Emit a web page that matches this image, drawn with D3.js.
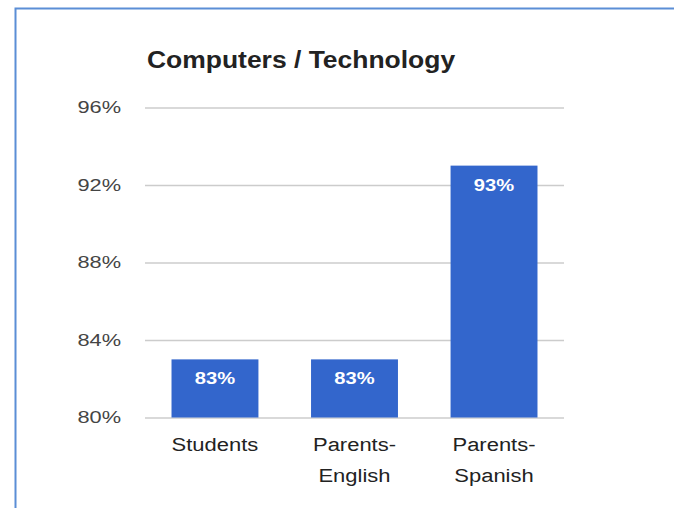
<!DOCTYPE html>
<html>
<head>
<meta charset="utf-8">
<script src="https://cdn.jsdelivr.net/npm/d3@7"></script>
<style>
  html, body { margin: 0; padding: 0; background: #fff; }
  svg { display: block; font-family: "Liberation Sans", Arial, sans-serif; }
</style>
</head>
<body>
<svg id="chart" width="674" height="508"></svg>
<script>
// Survey share answering "Computers / Technology", by respondent group
const categories = [["Students"], ["Parents-", "English"], ["Parents-", "Spanish"]];
const values = [83, 83, 93];
const valueLabels = ["83%", "83%", "93%"];
const yTicks = [80, 84, 88, 92, 96];
const title = "Computers / Technology";

const svg = d3.select("#chart");

// widen glyphs horizontally, keeping each text's anchor point fixed
function widen(sel, factor) {
  sel.each(function () {
    const len = this.getComputedTextLength();
    d3.select(this)
      .attr("textLength", len * factor)
      .attr("lengthAdjust", "spacingAndGlyphs");
  });
}

// frame around the chart area
svg.append("rect")
  .attr("x", 15.5).attr("y", 8.5)
  .attr("width", 700).attr("height", 600)
  .attr("fill", "#fff")
  .attr("stroke", "#5b8ed6").attr("stroke-width", 2);

const plot = { left: 145, right: 564, top: 107.5, bottom: 417.5 };

const x = d3.scaleBand()
  .domain(d3.range(values.length))
  .range([plot.left, plot.right])
  .paddingInner(0.377)
  .paddingOuter(0.19);

const y = d3.scaleLinear()
  .domain([80, 96])
  .range([plot.bottom, plot.top]);

// title
svg.append("text")
  .attr("x", 147).attr("y", 68)
  .attr("font-size", 23).attr("font-weight", "bold")
  .attr("fill", "#222")
  .text(title)
  .call(widen, 1.15);

// gridlines and tick labels
const yAxis = d3.axisLeft(y)
  .tickValues(yTicks)
  .tickSize(-(plot.right - plot.left))
  .tickPadding(24)
  .tickFormat(d => d + "%");

const gAxis = svg.append("g")
  .attr("transform", `translate(${plot.left},0)`)
  .call(yAxis);
gAxis.select(".domain").remove();
gAxis.selectAll(".tick line").attr("stroke", "#ccc").attr("stroke-width", 1.5);
gAxis.selectAll(".tick text")
  .attr("fill", "#444")
  .attr("font-size", 16.5)
  .attr("font-family", "Liberation Sans, Arial, sans-serif")
  .call(widen, 1.32);

// bars
svg.append("g").selectAll("rect")
  .data(values)
  .join("rect")
  .attr("x", (d, i) => x(i))
  .attr("width", x.bandwidth())
  .attr("y", d => y(d))
  .attr("height", d => y(80) - y(d))
  .attr("fill", "#3366cc");

// value labels inside the bar tops
svg.append("g").selectAll("text")
  .data(values)
  .join("text")
  .attr("x", (d, i) => x(i) + x.bandwidth() / 2)
  .attr("y", d => y(d) + 25)
  .attr("text-anchor", "middle")
  .attr("fill", "#fff")
  .attr("font-weight", "bold")
  .attr("font-size", 16.5)
  .text((d, i) => valueLabels[i])
  .call(widen, 1.22);

// category labels, wrapped onto lines
const cat = svg.append("g").selectAll("text")
  .data(categories)
  .join("text")
  .attr("x", (d, i) => x(i) + x.bandwidth() / 2)
  .attr("y", 451)
  .attr("text-anchor", "middle")
  .attr("fill", "#222")
  .attr("font-size", 18);
cat.selectAll("tspan")
  .data(d => d)
  .join("tspan")
  .attr("x", function () { return d3.select(this.parentNode).attr("x"); })
  .attr("dy", (d, j) => j === 0 ? 0 : 31)
  .text(d => d);
cat.selectAll("tspan").call(widen, 1.22);
</script>
</body>
</html>
